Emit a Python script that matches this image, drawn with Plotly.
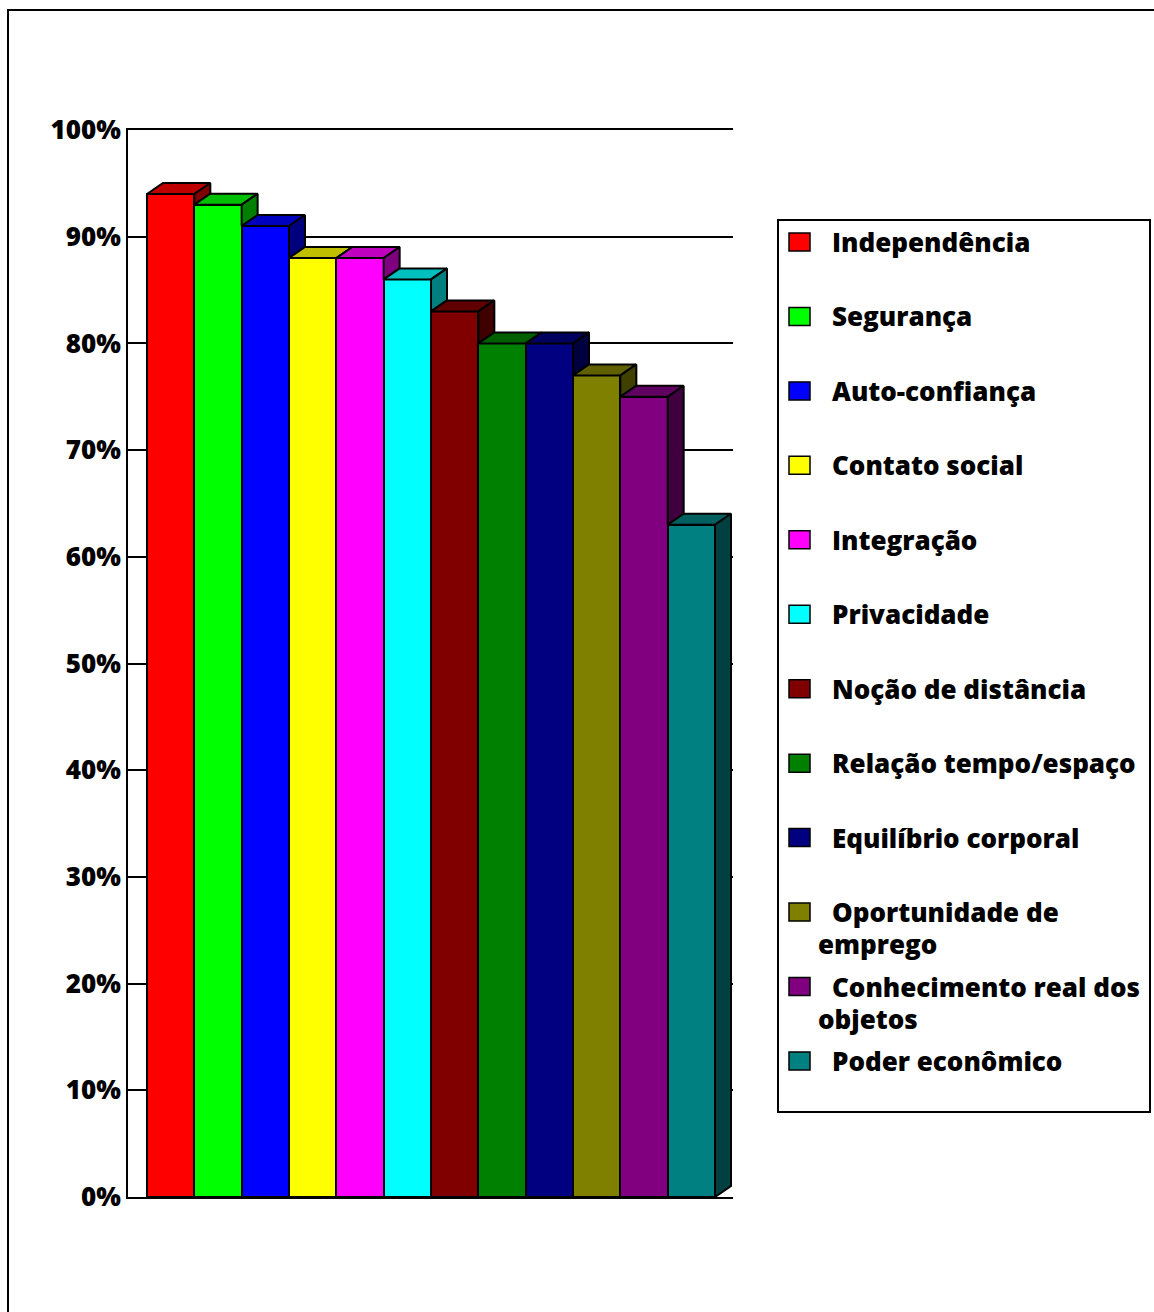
import plotly.graph_objects as go

# Survey results: perceived benefits (percentage of respondents)
categories = [
    "Independência",
    "Segurança",
    "Auto-confiança",
    "Contato social",
    "Integração",
    "Privacidade",
    "Noção de distância",
    "Relação tempo/espaço",
    "Equilíbrio corporal",
    "Oportunidade de emprego",
    "Conhecimento real dos objetos",
    "Poder econômico",
]
percentages = [94, 93, 91, 88, 88, 86, 83, 80, 80, 77, 75, 63]
colors = [
    "#FF0000", "#00FF00", "#0000FF", "#FFFF00", "#FF00FF", "#00FFFF",
    "#800000", "#008000", "#000080", "#808000", "#800080", "#008080",
]
y_tick_values = [0, 10, 20, 30, 40, 50, 60, 70, 80, 90, 100]
y_tick_labels = [f"{v}%" for v in y_tick_values]

# Legend entries that wrap onto two lines
legend_wrap = {
    "Oportunidade de emprego": ["Oportunidade de", "emprego"],
    "Conhecimento real dos objetos": ["Conhecimento real dos", "objetos"],
}

W, H = 1154, 1312
M_L, M_R, M_T, M_B = 128, 421, 130, 115
PLOT_W = W - M_L - M_R
PLOT_H = H - M_T - M_B

FONT = "Open Sans"
DEPTH_X = 0.338   # 3D extrusion in category units
DEPTH_Y = 1.03    # 3D extrusion in percentage points


def shade(hex_color, f):
    r, g, b = (int(hex_color[i:i + 2], 16) for i in (1, 3, 5))
    return "#{:02X}{:02X}{:02X}".format(int(r * f), int(g * f), int(b * f))


def paper_x(px):
    return (px - M_L) / PLOT_W


def paper_y(py):
    return (H - M_B - py) / PLOT_H


fig = go.Figure()

# Front faces of the columns
xs = list(range(len(categories)))
fig.add_trace(go.Bar(
    x=xs, y=percentages, width=1.0,
    marker=dict(color=colors, line=dict(color="black", width=2)),
    hoverinfo="skip", showlegend=False,
))

# Top and side faces for the 3D look (side clipped where the next column hides it)
for i, (v, c) in enumerate(zip(percentages, colors)):
    x0 = i - 0.5
    x1 = i + 0.5
    fig.add_trace(go.Scatter(
        x=[x0, x1, x1 + DEPTH_X, x0 + DEPTH_X, x0],
        y=[v, v, v + DEPTH_Y, v + DEPTH_Y, v],
        mode="lines", fill="toself", fillcolor=shade(c, 0.75),
        line=dict(color="black", width=2),
        hoverinfo="skip", showlegend=False,
    ))
    v_next = percentages[i + 1] if i + 1 < len(percentages) else 0
    if v_next < v:
        fig.add_trace(go.Scatter(
            x=[x1, x1, x1 + DEPTH_X, x1 + DEPTH_X, x1],
            y=[v_next, v, v + DEPTH_Y, v_next + DEPTH_Y, v_next],
            mode="lines", fill="toself", fillcolor=shade(c, 0.5),
            line=dict(color="black", width=2),
            hoverinfo="skip", showlegend=False,
        ))

shapes = []
annotations = []

# Outer chart frame
shapes.append(dict(
    type="rect", xref="paper", yref="paper",
    x0=paper_x(8), x1=paper_x(1170), y0=paper_y(10), y1=paper_y(1330),
    line=dict(color="black", width=2), fillcolor="rgba(0,0,0,0)", layer="below",
))

# Legend box
shapes.append(dict(
    type="rect", xref="paper", yref="paper",
    x0=paper_x(778), x1=paper_x(1150), y0=paper_y(220), y1=paper_y(1112),
    line=dict(color="black", width=2), fillcolor="white",
))

LEG_Y0 = 242
LEG_STEP = 74.45
for i, (name, c) in enumerate(zip(categories, colors)):
    yc = LEG_Y0 + LEG_STEP * i
    shapes.append(dict(
        type="rect", xref="paper", yref="paper",
        x0=paper_x(789), x1=paper_x(810), y0=paper_y(yc - 9), y1=paper_y(yc + 9),
        line=dict(color="black", width=1.5), fillcolor=c,
    ))
    lines = legend_wrap.get(name, [name])
    for j, txt in enumerate(lines):
        annotations.append(dict(
            xref="paper", yref="paper",
            x=paper_x(830 if j == 0 else 816), y=paper_y(yc + 32 * j),
            xanchor="left", yanchor="middle", showarrow=False,
            text=txt, font=dict(family=FONT, size=26, color="black", weight=800),
        ))

fig.update_layout(
    template="none",
    width=W, height=H,
    margin=dict(l=M_L, r=M_R, t=M_T, b=M_B, pad=0),
    paper_bgcolor="white", plot_bgcolor="white",
    showlegend=False,
    bargap=0,
    shapes=shapes,
    annotations=annotations,
    xaxis=dict(
        range=[-0.901, 11.88], showgrid=False, zeroline=False,
        showticklabels=False, ticks="", automargin=False,
        showline=True, mirror=True, linecolor="black", linewidth=2,
    ),
    yaxis=dict(
        range=[0, 100], tickvals=y_tick_values, ticktext=y_tick_labels,
        showgrid=True, gridcolor="black", gridwidth=2, zeroline=False,
        showline=True, linecolor="black", linewidth=2,
        ticks="", ticklabelstandoff=0, automargin=False,
        tickfont=dict(family=FONT, size=26, color="black", weight=800),
    ),
)

fig.write_html("out.html")
